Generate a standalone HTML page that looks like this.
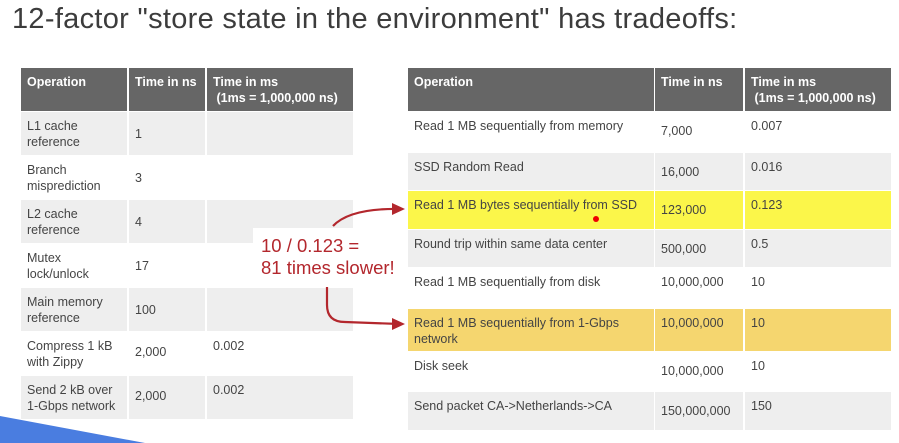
<!DOCTYPE html>
<html><head><meta charset="utf-8"><style>
body{margin:0;width:899px;height:443px;overflow:hidden;background:#fff;font-family:"Liberation Sans",sans-serif;position:relative}
.t{position:absolute;font-size:29px;color:#3c3c3c;left:12px;top:3px;letter-spacing:.3px}
.c{position:absolute;box-sizing:border-box;font-size:12.5px;color:#444;padding:6px 6px;line-height:16px}
.h{background:#666;color:#fff;font-weight:bold;font-size:12.5px}
.g{background:#eee}.y{background:#fbf64a}.o{background:#f5d66f}
</style></head><body>
<div class="t">12-factor "store state in the environment" has tradeoffs:</div>
<div id="L"></div><div id="R"></div>
<div style="position:absolute;left:253px;top:228px;width:146px;height:54px;background:#fff"></div>
<div style="position:absolute;left:261px;top:235px;font-size:18.5px;line-height:22px;color:#b3272d">10 / 0.123 =<br>81 times slower!</div>
<svg width="899" height="443" style="position:absolute;left:0;top:0">
<path d="M333 226 Q350 208 400 209" fill="none" stroke="#b3272d" stroke-width="2.2"/>
<polygon points="405,209 392,203 392,215" fill="#b3272d"/>
<path d="M327 287 L327 305 Q327 322 345 322 L400 324" fill="none" stroke="#b3272d" stroke-width="2.2"/>
<polygon points="405,324 392,318 392,330" fill="#b3272d"/>
<circle cx="596" cy="219" r="3" fill="#e00"/>
<polygon points="0,416 145,443 0,443" fill="#4a7de0"/>
</svg>
<script>
const leftOps=["L1 cache<br>reference","Branch<br>misprediction","L2 cache<br>reference","Mutex<br>lock/unlock","Main memory<br>reference","Compress 1 kB<br>with Zippy","Send 2 kB over<br>1-Gbps network"];
const leftNs=["1","3","4","17","100","2,000","2,000"];
const leftMs=["","","","","","0.002","0.002"];
const rightOps=["Read 1 MB sequentially from memory","SSD Random Read","Read 1 MB bytes sequentially from SSD","Round trip within same data center","Read 1 MB sequentially from disk","Read 1 MB sequentially from 1-Gbps<br>network","Disk seek","Send packet CA-&gt;Netherlands-&gt;CA"];
const rightNs=["7,000","16,000","123,000","500,000","10,000,000","10,000,000","10,000,000","150,000,000"];
const rightMs=["0.007","0.016","0.123","0.5","10","10","10","150"];
function cell(p,x,y,w,h,cls,html,name,pt){const d=document.createElement('div');d.className='c '+cls;


d.style.cssText=`left:${x}px;top:${y}px;width:${w}px;height:${h}px;`+(pt!=null?`padding-top:${pt}px`:'');d.innerHTML=html;p.appendChild(d);}
const L=document.getElementById('L'),R=document.getElementById('R');
const lc=[[21,106],[129,76],[207,146]];
const hd=["Operation","Time in ns","Time in ms<br>&nbsp;(1ms = 1,000,000 ns)"];
hd.forEach((t,i)=>cell(L,lc[i][0],68,lc[i][1],43,'h',t,'left-header-cell'));
leftOps.forEach((op,r)=>{const y=112+r*44,cl=r%2==0?'g':'';
cell(L,lc[0][0],y,lc[0][1],43,cl,op,'left-op-cell');
cell(L,lc[1][0],y,lc[1][1],43,cl,leftNs[r],'left-ns-cell',r<5?14:12);
cell(L,lc[2][0],y,lc[2][1],43,cl,leftMs[r],'left-ms-cell');});
const rc=[[408,246],[655,88],[745,146]];
hd.forEach((t,i)=>cell(R,rc[i][0],68,rc[i][1],43,'h',t,'right-header-cell'));
const ry=[112,153,191,230,268,309,352,392,431];
const rcls=['','g','y','g','','o','','g'];
rightOps.forEach((op,r)=>{const y=ry[r],h=ry[r+1]-y-1,cl=rcls[r];
cell(R,rc[0][0],y,rc[0][1],h,cl,op,'right-op-cell');
cell(R,rc[1][0],y,rc[1][1],h,cl,rightNs[r],'right-ns-cell',(r==4||r==5)?6:11);
cell(R,rc[2][0],y,rc[2][1],h,cl,rightMs[r],'right-ms-cell');});
</script>
</body></html>
